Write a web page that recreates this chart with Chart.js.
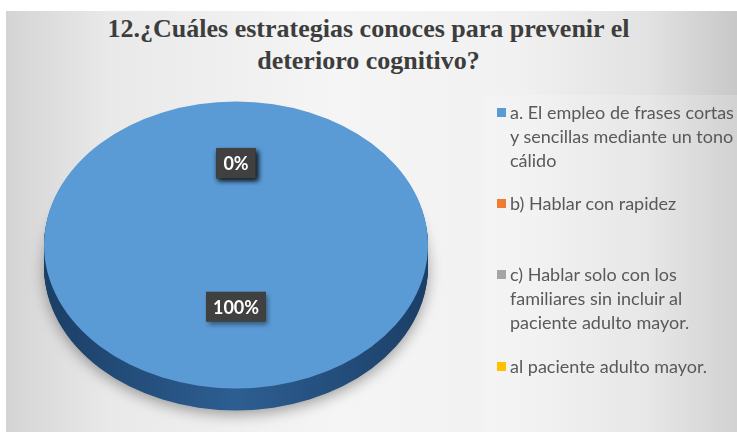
<!DOCTYPE html>
<html>
<head>
<meta charset="utf-8">
<script src="https://cdn.jsdelivr.net/npm/chart.js@4.4.1/dist/chart.umd.min.js"></script>
<style>
  body { margin: 0; width: 737px; height: 436px; overflow: hidden; position: relative; background: #fff; }
  #bg {
    position: absolute; left: 6px; top: 11px; width: 731px; height: 421px;
    background: linear-gradient(to right, #d4d4d4 0%, #e9e9e9 14%, #f5f5f5 45%, #f1f1f1 70%, #e2e2e2 88%, #c8c8c8 100%);
  }
  #legendBox { position: absolute; left: 484px; top: 95px; width: 253px; height: 337px; background: rgba(255,255,255,0.18); }
  #title {
    position: absolute; left: 0; top: 13px; width: 737px; text-align: center;
    font: bold 26px "Liberation Serif", "Times New Roman", serif; color: #3d3d3d; line-height: 32px;
  }
  #chart { position: absolute; left: 0; top: 0; }
  .item { position: absolute; left: 497px; font: 18px Lato, sans-serif; color: #595959; line-height: 24px; }
  .item .box { position: absolute; left: 0; top: 8px; width: 9px; height: 9px; }
  .item .txt { margin-left: 13px; white-space: nowrap; }
</style>
</head>
<body>
<div id="bg"></div>
<div id="legendBox"></div>
<div id="title"></div>
<canvas id="chart" width="737" height="436"></canvas>
<div id="legend"></div>
<script>
// data
const categories = [
  ['a. El empleo de frases cortas', 'y sencillas mediante un tono', 'cálido'],
  ['b) Hablar con rapidez'],
  ['c) Hablar solo con los', 'familiares sin incluir al', 'paciente adulto mayor.'],
  ['al paciente adulto mayor.']
];
const percents = [100, 0, 0, 0];
const sliceColors = ['#5b9bd5', '#ed7d31', '#a5a5a5', '#ffc000'];
const titleLines = ['12.¿Cuáles estrategias conoces para prevenir el', 'deterioro cognitivo?'];

// layout bits
const legendTops = [100, 191, 262, 354];
const squash = 0.747;   // vertical squeeze of the pie
const ellipseY = 245;   // centre of the top face
const depth = 22;       // thickness of the 3d rim
const labelShift = -10;

document.getElementById('title').innerHTML = titleLines.join('<br>');

const legend = document.getElementById('legend');
categories.forEach((lines, i) => {
  const it = document.createElement('div');
  it.className = 'item';
  it.style.top = legendTops[i] + 'px';
  it.innerHTML = `<span class="box" style="background:${sliceColors[i]}"></span><div class="txt">${lines.join('<br>')}</div>`;
  legend.appendChild(it);
});

const pie3d = {
  id: 'pie3d',
  beforeDatasetsDraw(chart) {
    const ctx = chart.ctx;
    const arcs = chart.getDatasetMeta(0).data;
    const cx = arcs[0].x, cy = arcs[0].y, r = arcs[0].outerRadius;
    const side = ctx.createLinearGradient(cx - r, 0, cx + r, 0);
    side.addColorStop(0, '#1b3f66');
    side.addColorStop(0.5, '#2d5e92');
    side.addColorStop(1, '#1b3f66');
    for (let d = depth; d >= 1; d--) {
      ctx.save();
      ctx.translate(0, ellipseY + d);
      ctx.scale(1, squash);
      ctx.translate(0, -cy);
      if (d === depth) {
        ctx.shadowColor = 'rgba(0,0,0,0.35)';
        ctx.shadowBlur = 14;
        ctx.shadowOffsetY = 4;
      }
      arcs.forEach(a => {
        const o = a.options;
        a.options = Object.assign({}, o, { backgroundColor: side, borderWidth: 0 });
        a.draw(ctx);
        a.options = o;
      });
      ctx.restore();
    }
    ctx.save();
    ctx.translate(0, ellipseY);
    ctx.scale(1, squash);
    ctx.translate(0, -cy);
  },
  afterDatasetsDraw(chart) {
    const ctx = chart.ctx;
    ctx.restore();
    const arcs = chart.getDatasetMeta(0).data;
    const cy = arcs[0].y;
    arcs.forEach((a, i) => {
      const p = a.tooltipPosition();
      const x = p.x;
      const y = ellipseY + (p.y - cy) * squash + labelShift;
      const txt = percents[i] + '%';
      ctx.font = 'bold 18px Lato, sans-serif';
      const w = ctx.measureText(txt).width + 14, h = 30;
      ctx.save();
      ctx.shadowColor = 'rgba(0,0,0,0.45)';
      ctx.shadowBlur = 5;
      ctx.shadowOffsetX = 2;
      ctx.shadowOffsetY = 3;
      ctx.fillStyle = '#404040';
      ctx.fillRect(x - w / 2, y - h / 2, w, h);
      ctx.restore();
      ctx.fillStyle = '#ffffff';
      ctx.textAlign = 'center';
      ctx.textBaseline = 'middle';
      ctx.fillText(txt, x, y + 1);
    });
  }
};

new Chart(document.getElementById('chart'), {
  type: 'pie',
  data: {
    labels: categories,
    datasets: [{
      data: percents,
      backgroundColor: sliceColors,
      borderWidth: 0,
      clip: false
    }]
  },
  options: {
    responsive: false,
    animation: false,
    layout: { padding: { left: 44, right: 309, top: 26, bottom: 26 } },
    plugins: {
      legend: { display: false },
      tooltip: { enabled: false },
      title: { display: false }
    }
  },
  plugins: [pie3d]
});
</script>
</body>
</html>
